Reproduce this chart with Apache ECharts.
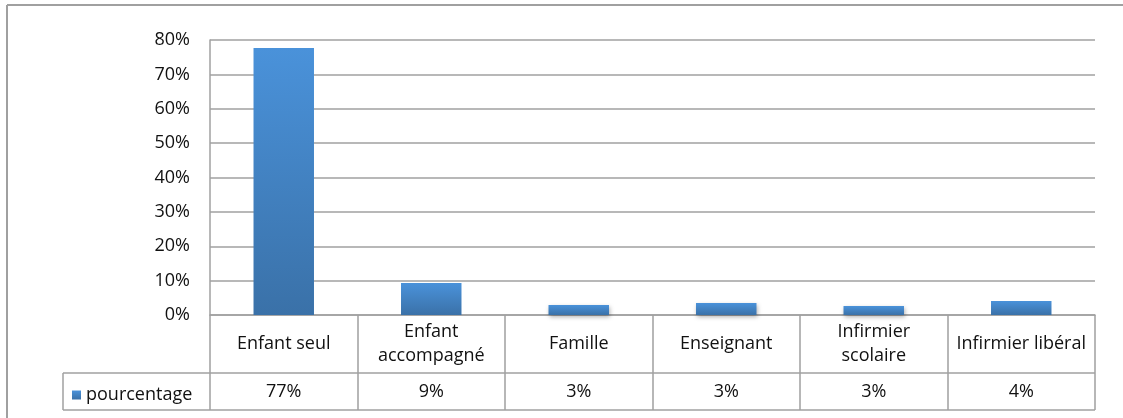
<!DOCTYPE html>
<html><head><meta charset="utf-8">
<script src="https://cdn.jsdelivr.net/npm/echarts@6/dist/echarts.min.js"></script>
<style>html,body{margin:0;padding:0;background:#fff}#c{width:1123px;height:418px}</style>
</head><body><div id="c"></div>
<script>
const categories = ['Enfant seul', 'Enfant\naccompagné', 'Famille', 'Enseignant', 'Infirmier\nscolaire', 'Infirmier libéral'];
const values = [77.7, 9.3, 2.9, 3.5, 2.6, 4.1];
const tableLabels = ['77%', '9%', '3%', '3%', '3%', '4%'];
const seriesName = 'pourcentage';
const yTicks = [0, 10, 20, 30, 40, 50, 60, 70, 80];

const FONT = 'Open Sans';
const FS = 18;
const GRAY = '#a0a0a0';
const chart = echarts.init(document.getElementById('c'));
const gridL = 210, gridR = 28, gridT = 40, gridB = 103;
const barGrad = new echarts.graphic.LinearGradient(0, 0, 0, 1, [
  {offset: 0, color: '#4a92da'}, {offset: 1, color: '#3a71a8'}]);
chart.setOption({
  animation: false,
  textStyle: {fontFamily: FONT},
  grid: {left: gridL, right: gridR, top: gridT, bottom: gridB, containLabel: false},
  legend: {show: true, left: 67, top: 381, icon: 'rect', itemWidth: 9, itemHeight: 9, itemGap: 6,
    textStyle: {fontFamily: FONT, fontSize: FS, color: '#111'}, data: [seriesName]},
  xAxis: [{
    type: 'category', data: categories, position: 'bottom',
    axisLine: {show: true, lineStyle: {color: GRAY, width: 1.5}},
    axisTick: {show: true, length: 95, lineStyle: {color: GRAY, width: 1.5}},
    axisLabel: {margin: 29, verticalAlign: 'middle', lineHeight: 24, fontSize: FS, color: '#111', fontFamily: FONT, interval: 0}
  }, {
    type: 'category', data: tableLabels, position: 'bottom', offset: 0,
    axisLine: {show: false}, axisTick: {show: false},
    axisLabel: {margin: 77, verticalAlign: 'middle', fontSize: FS, color: '#111', fontFamily: FONT, interval: 0}
  }],
  yAxis: {
    type: 'value', min: 0, max: yTicks[yTicks.length - 1], interval: 10,
    axisLine: {show: true, lineStyle: {color: GRAY, width: 1.5}},
    axisTick: {show: false},
    axisLabel: {formatter: '{value}%', fontSize: FS, color: '#111', margin: 20, fontFamily: FONT},
    splitLine: {show: true, lineStyle: {color: GRAY, width: 1.5}}
  },
  series: [{
    name: seriesName, type: 'bar', xAxisIndex: 0, data: values, barWidth: '41%',
    itemStyle: {color: barGrad, shadowColor: 'rgba(0,0,0,0.3)', shadowBlur: 4, shadowOffsetX: 1, shadowOffsetY: 2}
  }]
});
const yZero = chart.convertToPixel({yAxisIndex: 0}, 0);
const xEnd = 1123 - gridR;
const rowTop = yZero + 58, rowBot = yZero + 95;
const ls = {stroke: GRAY, lineWidth: 1.5};
chart.setOption({graphic: [
  {type: 'line', shape: {x1: 63, y1: rowTop, x2: xEnd, y2: rowTop}, style: ls},
  {type: 'line', shape: {x1: 63, y1: rowBot, x2: xEnd, y2: rowBot}, style: ls},
  {type: 'line', shape: {x1: 63, y1: rowTop, x2: 63, y2: rowBot}, style: ls},
  {type: 'line', shape: {x1: 7, y1: 5, x2: 1123, y2: 5}, style: {stroke: GRAY, lineWidth: 2}},
  {type: 'line', shape: {x1: 7, y1: 5, x2: 7, y2: 418}, style: {stroke: GRAY, lineWidth: 2}}
]});
</script></body></html>
